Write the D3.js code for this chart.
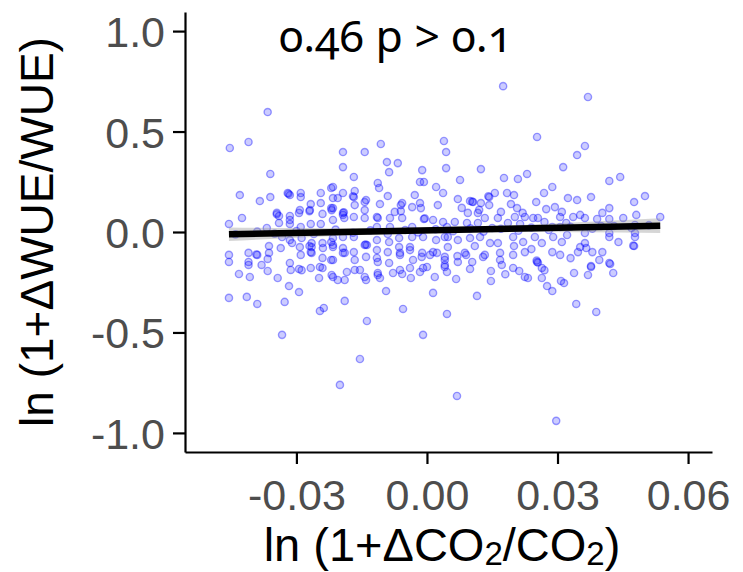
<!DOCTYPE html>
<html>
<head>
<meta charset="utf-8">
<script src="https://cdn.jsdelivr.net/npm/d3@7"></script>
<style>
  body { margin:0; background:#fff; }
  svg { display:block; }
</style>
</head>
<body>
<svg id="chart" width="743" height="572"></svg>
<script>
var obs = [
 [-0.0366,0.597],[-0.0453,0.418],[-0.041,0.448],[-0.036,0.289],[-0.043,0.184],[-0.0384,0.154],[-0.036,0.174],[-0.032,0.194],
 [-0.0315,0.184],[-0.029,0.194],[-0.029,0.174],[-0.0244,0.194],[-0.022,0.219],[-0.0425,0.070],[-0.0455,0.040],[-0.0345,0.095],
 [-0.034,0.080],[-0.0315,0.080],[-0.0294,0.095],[-0.0267,0.139],[-0.027,0.104],[-0.0244,0.144],[-0.024,0.090],[-0.022,0.119],
 [-0.0368,0.020],[-0.034,0.045],[-0.0315,0.040],[-0.029,0.025],[-0.0267,0.040],[-0.0244,0.040],[-0.0333,-0.025],[-0.031,-0.055],
 [-0.0288,-0.030],[-0.0265,-0.055],[-0.024,-0.055],[-0.022,-0.050],[-0.0455,-0.114],[-0.0455,-0.149],[-0.041,-0.104],[-0.041,-0.149],
 [-0.039,-0.114],[-0.0363,-0.104],[-0.0363,-0.070],[-0.0366,-0.134],[-0.0336,-0.080],[-0.0315,-0.154],[-0.0313,-0.189],[-0.029,-0.114],
 [-0.027,-0.070],[-0.0267,-0.100],[-0.0267,-0.179],[-0.024,-0.129],[-0.022,-0.139],[-0.041,-0.164],[-0.038,-0.164],[-0.0366,-0.194],
 [-0.0432,-0.209],[-0.0407,-0.224],[-0.0343,-0.229],[-0.0294,-0.184],[-0.0248,-0.229],[-0.024,-0.179],[-0.0317,-0.269],[-0.0294,-0.299],
 [-0.0455,-0.328],[-0.0414,-0.323],[-0.039,-0.358],[-0.0327,-0.348],[-0.0246,-0.393],[-0.0237,-0.378],[-0.0333,-0.512],
 [-0.0345,0.088],[-0.0318,0.190],[-0.0265,-0.104],[-0.0392,-0.112],[-0.0288,-0.190],

 [-0.0193,0.398],[-0.0143,0.398],[-0.0106,0.438],[-0.0193,0.323],[-0.0168,0.274],[-0.0092,0.348],[-0.0067,0.343],[-0.0087,0.298],
 [-0.0011,0.308],[0.0039,0.453],[0.0044,0.398],[0.0044,0.318],[-0.0113,0.244],[-0.011,0.219],[-0.009,0.179],[-0.0016,0.249],
 [-0.0007,0.249],[0.0021,0.224],[0.0037,0.194],[-0.0216,0.224],[-0.0193,0.194],[-0.0166,0.204],[-0.0168,0.174],[-0.0216,0.169],
 [-0.0205,0.169],[-0.014,0.159],[-0.0166,0.134],[-0.0216,0.119],[-0.0193,0.095],[-0.019,0.070],[-0.0168,0.075],[-0.0143,0.109],
 [-0.0143,0.070],[-0.0108,0.139],[-0.0113,0.070],[-0.0085,0.070],[-0.006,0.134],[-0.006,0.104],[-0.0057,0.070],[-0.0034,0.124],
 [-0.0016,0.144],[-0.0014,0.119],[-0.0007,0.065],[-0.0005,0.068],[0.0014,0.060],[0.0037,0.050],[-0.0216,0.060],[-0.0085,0.025],
 [-0.0034,0.025],[-0.0115,0.025],[-0.0216,-0.030],[-0.0193,-0.025],[-0.0168,-0.025],[-0.0143,-0.065],[-0.0141,-0.062],[-0.0115,-0.040],
 [-0.0087,-0.050],[-0.0064,-0.030],[-0.0034,-0.025],[-0.0009,-0.025],[0.0021,-0.040],[0.0041,-0.025],[-0.0216,-0.075],[-0.0193,-0.080],
 [-0.0193,-0.104],[-0.0168,-0.100],[-0.014,-0.124],[-0.0115,-0.090],[-0.0113,-0.149],[-0.0087,-0.154],[-0.0064,-0.075],[-0.0062,-0.114],
 [-0.0039,-0.090],[-0.0032,-0.139],[-0.0011,-0.104],[0.0007,-0.114],[0.0023,-0.104],[0.0041,-0.124],[-0.0216,-0.139],[-0.0216,-0.224],
 [-0.0205,-0.239],[-0.0189,-0.239],[-0.0166,-0.189],[-0.0154,-0.189],[-0.014,-0.239],[-0.0113,-0.204],[-0.0108,-0.229],[-0.0062,-0.189],
 [-0.0057,-0.209],[-0.0037,-0.229],[-0.0016,-0.199],[-0.0009,-0.179],[0.0018,-0.224],[0.0041,-0.174],[-0.0094,-0.294],[-0.0189,-0.343],
 [-0.0055,-0.383],[0.0014,-0.303],[-0.0138,-0.443],[-0.0009,-0.512],[0.0046,-0.408],[-0.0154,-0.632],[-0.020,-0.761],[0.0069,-0.816],
 [-0.0191,0.098],[-0.0170,0.178],

 [0.0297,-0.940],[0.0115,-0.318],[0.0343,-0.358],[0.0389,-0.398],[0.0147,-0.244],[0.0099,-0.184],[0.0067,-0.234],[0.0264,-0.229],
 [0.0276,-0.269],[0.0288,-0.294],[0.0308,-0.244],[0.0315,-0.254],[0.0338,-0.204],[0.037,-0.214],[0.0377,-0.174],[0.0421,-0.159],
 [0.0428,-0.204],[0.0396,-0.139],[0.0232,-0.229],[0.0225,-0.224],[0.0198,-0.179],[0.0212,-0.194],[0.0264,-0.179],[0.0253,-0.149],
 [0.0255,-0.152],[0.0147,-0.194],[0.0172,-0.164],[0.0168,-0.139],[0.0129,-0.124],[0.009,-0.114],[0.0041,-0.164],

 [0.0175,0.726],[0.0253,0.473],[0.0124,0.313],[0.0076,0.259],[0.0177,0.269],[0.0209,0.264],[0.023,0.289],[0.0288,0.224],
 [0.0269,0.194],[0.0313,0.323],[0.0156,0.194],[0.0184,0.194],[0.02,0.184],[0.0143,0.174],[0.0071,0.164],[0.0099,0.154],
 [0.0106,0.149],[0.0124,0.144],[0.0143,0.134],[0.0193,0.139],[0.0207,0.119],[0.0251,0.149],[0.0274,0.114],[0.0294,0.124],
 [0.031,0.100],[0.0094,0.095],[0.0117,0.095],[0.0133,0.070],[0.0163,0.070],[0.0202,0.075],[0.0225,0.075],[0.0244,0.070],
 [0.0255,0.070],[0.0306,0.075],[0.0064,0.050],[0.0092,0.045],[0.0117,0.045],[0.0186,0.045],[0.0214,0.040],[0.0288,0.025],
 [0.0048,-0.025],[0.0071,-0.040],[0.0099,-0.030],[0.0122,-0.025],[0.0145,-0.055],[0.0163,-0.055],[0.0198,-0.025],[0.0221,-0.050],
 [0.0248,-0.025],[0.0264,-0.055],[0.029,-0.025],[0.031,-0.050],[0.0048,-0.075],[0.0087,-0.104],[0.0133,-0.114],[0.0168,-0.104],
 [0.0198,-0.114],[0.0225,-0.100],[0.0288,-0.100],[0.0306,-0.114],[0.0071,-0.149],[0.0104,-0.149],
 [0.0104,0.151],[0.0141,0.178],[0.0252,-0.142],

 [0.037,0.672],[0.0363,0.428],[0.0345,0.383],[0.0419,0.254],[0.0444,0.274],[0.0324,0.169],[0.0345,0.159],[0.0377,0.174],
 [0.0419,0.119],[0.0403,0.095],[0.0476,0.149],[0.0501,0.179],[0.0481,0.085],[0.0536,0.075],[0.0336,0.075],[0.0352,0.085],
 [0.0363,0.070],[0.0391,0.065],[0.0419,0.065],[0.0451,0.070],[0.0478,0.035],[0.0306,0.025],[0.0363,-0.005],[0.0419,-0.005],
 [0.0419,-0.025],[0.0478,-0.005],[0.0478,-0.025],[0.0322,-0.015],[0.0363,-0.055],[0.0352,-0.075],[0.0366,-0.080],[0.0347,-0.100],
 [0.0476,-0.070],[0.0474,-0.068],[0.0403,-0.100],[0.0419,-0.154],[0.0377,-0.169],

 // dense middle band
 [-0.0315,0.060],[-0.0292,0.109],[-0.0269,0.109],[-0.0219,0.109],[-0.0193,0.085],[-0.0143,0.149],[-0.0115,0.075],[-0.0074,0.100],
 [-0.0057,0.144],[-0.0028,0.184],[0.0025,0.134],[0.0046,0.025],[-0.0315,-0.040],[-0.0292,-0.075],[-0.0265,-0.075],[-0.0239,-0.080],
 [-0.0216,-0.065],[-0.0189,-0.104],[-0.0166,-0.139],[-0.0138,-0.065],[-0.0115,-0.129],[-0.0090,-0.100],[-0.0062,-0.104],[-0.0039,-0.075],
 [-0.0012,-0.124],[0.0014,-0.100],[0.0041,-0.139],[0.0046,-0.199],[0.0000,-0.174],[-0.0039,-0.179],[-0.0078,-0.204],[-0.0113,-0.214],
 [-0.0143,-0.224],[-0.0184,-0.199],[-0.0219,-0.214],[-0.0246,-0.174],
 [0.008,0.120],[0.012,0.110],[0.017,0.100],[0.022,0.095],[0.027,0.050],[0.015,0.020],[0.020,-0.070],[0.024,-0.085],
 [0.011,-0.070],[0.007,-0.120],[0.033,-0.130],[0.027,-0.190],[0.018,-0.210],[0.032,0.045],[0.040,0.030],[0.044,-0.050],
 [0.038,-0.100],

 // partly hidden under the fitted line
 [-0.044,-0.012],[-0.039,0.002],[-0.035,-0.008],[-0.030,0.005],[-0.026,-0.010],[-0.021,0.012],[-0.017,-0.004],[-0.013,0.008],
 [-0.009,-0.010],[-0.005,0.010],[-0.002,-0.002],[0.002,0.014],[0.006,0.004],[0.010,0.018],[0.013,0.002],[0.017,0.016],
 [0.021,0.006],[0.024,0.022],[0.028,0.010],[0.033,0.026],[0.038,0.016],[0.043,0.030],[0.047,0.020],[0.051,0.034]
];

var xTicks = [-0.03, 0, 0.03, 0.06];
var yTicks = [-1, -0.5, 0, 0.5, 1];

// fitted line and its confidence half-width
var fitSlope = 0.43;
var fitIntercept = 0.0085;
var ciX    = [-0.0455, -0.03, -0.015, 0.004, 0.02, 0.035, 0.0536];
var ciHalf = [0.034, 0.024, 0.017, 0.014, 0.017, 0.025, 0.037];

var annotation = "0.46 p > 0.1";

var svg = d3.select("#chart");

var x = d3.scaleLinear().domain([-0.0556, 0.0655]).range([185, 712]);
var y = d3.scaleLinear().domain([-1.095, 1.095]).range([452, 12]);

// points
svg.append("g").selectAll("circle")
   .data(obs)
   .enter().append("circle")
   .attr("cx", function(d) { return x(d[0]); })
   .attr("cy", function(d) { return y(d[1]); })
   .attr("r", 3.6)
   .style("fill", "#0000ff")
   .style("fill-opacity", 0.2)
   .style("stroke", "#0000ff")
   .style("stroke-opacity", 0.38)
   .style("stroke-width", 1.4);

// confidence band
var band = d3.area()
   .x(function(d, i) { return x(d); })
   .y0(function(d, i) { return y(fitIntercept + fitSlope*d - ciHalf[i]); })
   .y1(function(d, i) { return y(fitIntercept + fitSlope*d + ciHalf[i]); })
   .curve(d3.curveMonotoneX);
svg.append("path")
   .attr("d", band(ciX))
   .style("fill", "#999")
   .style("fill-opacity", 0.4);

// fitted line over data range
var xr = d3.extent(obs, function(d) { return d[0]; });
svg.append("line")
   .attr("x1", x(xr[0])).attr("y1", y(fitIntercept + fitSlope*xr[0]))
   .attr("x2", x(xr[1])).attr("y2", y(fitIntercept + fitSlope*xr[1]))
   .attr("stroke", "#000")
   .attr("stroke-width", 6.5);

// axes
var yAxis = d3.axisLeft(y).tickValues(yTicks).tickSize(12).tickSizeOuter(0)
   .tickFormat(function(d) { return d.toFixed(1); });
var gy = svg.append("g").attr("transform", "translate(185,0)").call(yAxis);

var xAxis = d3.axisBottom(x).tickValues(xTicks).tickSize(12).tickSizeOuter(0)
   .tickFormat(function(d) { return d.toFixed(2); });
var gx = svg.append("g").attr("transform", "translate(0,452)").call(xAxis);

[gx, gy].forEach(function(g) {
  g.select(".domain").attr("stroke", "#000").attr("stroke-width", 2.2);
  g.selectAll(".tick line").attr("stroke", "#000").attr("stroke-width", 2.2);
  g.selectAll(".tick text")
    .attr("fill", "#4d4d4d")
    .style("font-family", "'Liberation Sans', Arial, sans-serif")
    .style("font-size", "43px");
});
gy.selectAll(".tick text").attr("x", -20).attr("dy", "0.36em");
gx.selectAll(".tick text").attr("y", 27).attr("dy", "0.71em");

// axis titles
svg.append("text")
   .attr("transform", "translate(53,232) rotate(-90)")
   .attr("text-anchor", "middle")
   .style("font-family", "'Liberation Sans', Arial, sans-serif")
   .style("font-size", "46px")
   .attr("fill", "#000")
   .text("ln (1+\u0394WUE/WUE)");

var xt = svg.append("text")
   .attr("x", 442).attr("y", 561)
   .attr("text-anchor", "middle")
   .style("font-family", "'Liberation Sans', Arial, sans-serif")
   .style("font-size", "47px")
   .attr("fill", "#000");
xt.append("tspan").text("ln (1+\u0394CO");
xt.append("tspan").attr("dy", 4).style("font-size", "33px").text("2");
xt.append("tspan").attr("dy", -4).text("/CO");
xt.append("tspan").attr("dy", 4).style("font-size", "33px").text("2");
xt.append("tspan").attr("dy", -4).text(")");

// annotation
svg.append("text")
   .attr("x", 279).attr("y", 52)
   .style("font-family", "'Noto Sans', sans-serif")
   .style("font-variant-numeric", "oldstyle-nums")
   .style("font-size", "44.5px")
   .attr("fill", "#000")
   .text(annotation);
</script>
</body>
</html>
